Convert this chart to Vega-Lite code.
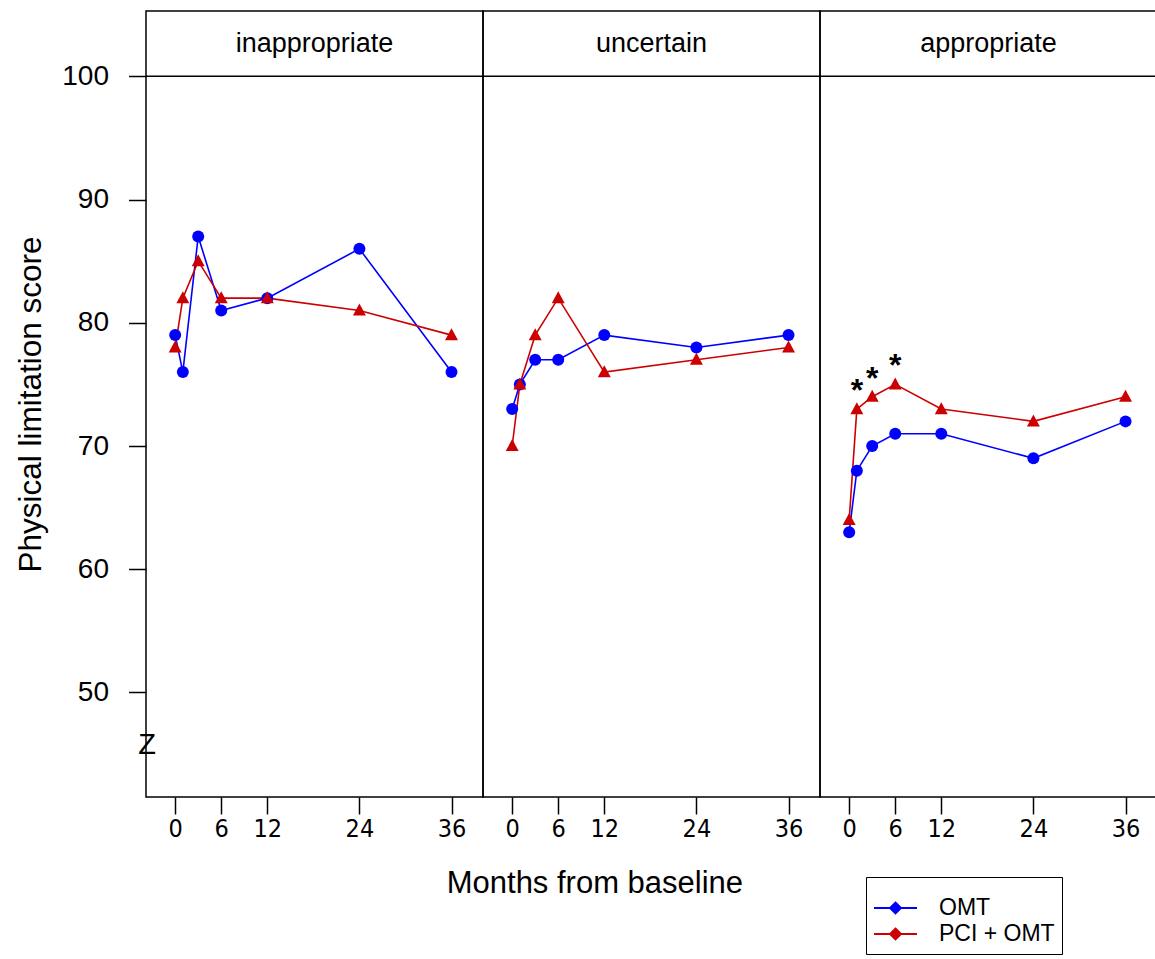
{
  "$schema": "https://vega.github.io/schema/vega-lite/v6.json",
  "padding": {"left": 15, "top": 10, "right": 0, "bottom": 0},
  "background": "white",
  "data": {"values": [
    {"panel": "inappropriate", "kind": "strip"},
    {"panel": "uncertain", "kind": "strip"},
    {"panel": "appropriate", "kind": "strip"},
    {"panel": "inappropriate", "kind": "z", "label": "Z"},
    {"panel": "inappropriate", "kind": "pt", "group": "OMT", "month": 0, "score": 79},
    {"panel": "inappropriate", "kind": "pt", "group": "OMT", "month": 1, "score": 76},
    {"panel": "inappropriate", "kind": "pt", "group": "OMT", "month": 3, "score": 87},
    {"panel": "inappropriate", "kind": "pt", "group": "OMT", "month": 6, "score": 81},
    {"panel": "inappropriate", "kind": "pt", "group": "OMT", "month": 12, "score": 82},
    {"panel": "inappropriate", "kind": "pt", "group": "OMT", "month": 24, "score": 86},
    {"panel": "inappropriate", "kind": "pt", "group": "OMT", "month": 36, "score": 76},
    {"panel": "inappropriate", "kind": "pt", "group": "PCI + OMT", "month": 0, "score": 78},
    {"panel": "inappropriate", "kind": "pt", "group": "PCI + OMT", "month": 1, "score": 82},
    {"panel": "inappropriate", "kind": "pt", "group": "PCI + OMT", "month": 3, "score": 85},
    {"panel": "inappropriate", "kind": "pt", "group": "PCI + OMT", "month": 6, "score": 82},
    {"panel": "inappropriate", "kind": "pt", "group": "PCI + OMT", "month": 12, "score": 82},
    {"panel": "inappropriate", "kind": "pt", "group": "PCI + OMT", "month": 24, "score": 81},
    {"panel": "inappropriate", "kind": "pt", "group": "PCI + OMT", "month": 36, "score": 79},
    {"panel": "uncertain", "kind": "pt", "group": "OMT", "month": 0, "score": 73},
    {"panel": "uncertain", "kind": "pt", "group": "OMT", "month": 1, "score": 75},
    {"panel": "uncertain", "kind": "pt", "group": "OMT", "month": 3, "score": 77},
    {"panel": "uncertain", "kind": "pt", "group": "OMT", "month": 6, "score": 77},
    {"panel": "uncertain", "kind": "pt", "group": "OMT", "month": 12, "score": 79},
    {"panel": "uncertain", "kind": "pt", "group": "OMT", "month": 24, "score": 78},
    {"panel": "uncertain", "kind": "pt", "group": "OMT", "month": 36, "score": 79},
    {"panel": "uncertain", "kind": "pt", "group": "PCI + OMT", "month": 0, "score": 70},
    {"panel": "uncertain", "kind": "pt", "group": "PCI + OMT", "month": 1, "score": 75},
    {"panel": "uncertain", "kind": "pt", "group": "PCI + OMT", "month": 3, "score": 79},
    {"panel": "uncertain", "kind": "pt", "group": "PCI + OMT", "month": 6, "score": 82},
    {"panel": "uncertain", "kind": "pt", "group": "PCI + OMT", "month": 12, "score": 76},
    {"panel": "uncertain", "kind": "pt", "group": "PCI + OMT", "month": 24, "score": 77},
    {"panel": "uncertain", "kind": "pt", "group": "PCI + OMT", "month": 36, "score": 78},
    {"panel": "appropriate", "kind": "pt", "group": "OMT", "month": 0, "score": 63},
    {"panel": "appropriate", "kind": "pt", "group": "OMT", "month": 1, "score": 68},
    {"panel": "appropriate", "kind": "pt", "group": "OMT", "month": 3, "score": 70},
    {"panel": "appropriate", "kind": "pt", "group": "OMT", "month": 6, "score": 71},
    {"panel": "appropriate", "kind": "pt", "group": "OMT", "month": 12, "score": 71},
    {"panel": "appropriate", "kind": "pt", "group": "OMT", "month": 24, "score": 69},
    {"panel": "appropriate", "kind": "pt", "group": "OMT", "month": 36, "score": 72},
    {"panel": "appropriate", "kind": "pt", "group": "PCI + OMT", "month": 0, "score": 64},
    {"panel": "appropriate", "kind": "pt", "group": "PCI + OMT", "month": 1, "score": 73, "sig": "*"},
    {"panel": "appropriate", "kind": "pt", "group": "PCI + OMT", "month": 3, "score": 74, "sig": "*"},
    {"panel": "appropriate", "kind": "pt", "group": "PCI + OMT", "month": 6, "score": 75, "sig": "*"},
    {"panel": "appropriate", "kind": "pt", "group": "PCI + OMT", "month": 12, "score": 73},
    {"panel": "appropriate", "kind": "pt", "group": "PCI + OMT", "month": 24, "score": 72},
    {"panel": "appropriate", "kind": "pt", "group": "PCI + OMT", "month": 36, "score": 74}
  ]},
  "spacing": 0,
  "bounds": "flush",
  "resolve": {"scale": {"color": "shared", "shape": "shared"}, "legend": {"color": "shared", "shape": "shared"}},
  "hconcat": [
    {
      "width": 337, "height": 786,
      "transform": [{"filter": "datum.panel === 'inappropriate'"}],
      "layer": [
        {"transform": [{"filter": "datum.kind === 'strip'"}],
         "mark": {"type": "rule", "color": "black", "strokeWidth": 1.5},
         "encoding": {"y": {"datum": 100, "type": "quantitative", "scale": {"domain": [41.52, 105.3], "nice": false, "zero": false}}}},
        {"transform": [{"filter": "datum.kind === 'strip'"}],
         "mark": {"type": "text", "fontSize": 27, "color": "black", "align": "center", "baseline": "middle"},
         "encoding": {
           "x": {"datum": 18.15, "type": "quantitative", "scale": {"domain": [-3.8, 40.1], "nice": false, "zero": false}},
           "y": {"datum": 102.64, "type": "quantitative"},
           "text": {"field": "panel"}}},
        {"transform": [{"filter": "datum.kind === 'z'"}],
         "mark": {"type": "text", "fontSize": 29, "color": "black", "align": "center", "baseline": "middle"},
         "encoding": {
           "x": {"datum": -3.65, "type": "quantitative"},
           "y": {"datum": 45.7, "type": "quantitative"},
           "text": {"field": "label"}}},
        {"transform": [{"filter": "datum.kind === 'pt'"}],
         "mark": {"type": "line", "strokeWidth": 1.6},
         "encoding": {
           "x": {"field": "month", "type": "quantitative", "scale": {"domain": [-3.8, 40.1], "nice": false, "zero": false},
             "axis": {"values": [0, 6, 12, 24, 36], "title": "Months from baseline", "titleX": 448.4}},
           "y": {"field": "score", "type": "quantitative", "scale": {"domain": [41.52, 105.3], "nice": false, "zero": false},
             "axis": {"values": [50, 60, 70, 80, 90, 100], "title": "Physical limitation score", "labelFontSize": 28, "tickSize": 17.5, "labelPadding": 20, "titleFontSize": 31.5, "titlePadding": 14}},
           "color": {"field": "group", "type": "nominal", "title": " ", "scale": {"domain": ["OMT", "PCI + OMT"], "range": ["#0000ff", "#cc0000"]},
             "legend": {"orient": "none", "legendX": 720, "legendY": 866}}}},
        {"transform": [{"filter": "datum.kind === 'pt'"}],
         "mark": {"type": "point", "filled": true, "opacity": 1, "size": 144},
         "encoding": {
           "x": {"field": "month", "type": "quantitative"},
           "y": {"field": "score", "type": "quantitative"},
           "shape": {"field": "group", "type": "nominal", "scale": {"range": ["circle", "M0,-1.15L1.08,0.85L-1.08,0.85Z"]}, "legend": null},
           "color": {"field": "group", "type": "nominal", "title": " ", "scale": {"domain": ["OMT", "PCI + OMT"], "range": ["#0000ff", "#cc0000"]},
             "legend": {"orient": "none", "legendX": 720, "legendY": 866}}}}
      ]
    },
    {
      "width": 337, "height": 786,
      "transform": [{"filter": "datum.panel === 'uncertain'"}],
      "layer": [
        {"transform": [{"filter": "datum.kind === 'strip'"}],
         "mark": {"type": "rule", "color": "black", "strokeWidth": 1.5},
         "encoding": {"y": {"datum": 100, "type": "quantitative", "scale": {"domain": [41.52, 105.3], "nice": false, "zero": false}, "axis": null}}},
        {"transform": [{"filter": "datum.kind === 'strip'"}],
         "mark": {"type": "text", "fontSize": 27, "color": "black", "align": "center", "baseline": "middle"},
         "encoding": {
           "x": {"datum": 18.15, "type": "quantitative", "scale": {"domain": [-3.8, 40.1], "nice": false, "zero": false}},
           "y": {"datum": 102.64, "type": "quantitative", "axis": null},
           "text": {"field": "panel"}}},
        {"transform": [{"filter": "datum.kind === 'pt'"}],
         "mark": {"type": "line", "strokeWidth": 1.6},
         "encoding": {
           "x": {"field": "month", "type": "quantitative", "scale": {"domain": [-3.8, 40.1], "nice": false, "zero": false},
             "axis": {"values": [0, 6, 12, 24, 36], "title": ""}},
           "y": {"field": "score", "type": "quantitative", "scale": {"domain": [41.52, 105.3], "nice": false, "zero": false}, "axis": null},
           "color": {"field": "group", "type": "nominal", "title": " ", "scale": {"domain": ["OMT", "PCI + OMT"], "range": ["#0000ff", "#cc0000"]},
             "legend": {"orient": "none", "legendX": 720, "legendY": 866}}}},
        {"transform": [{"filter": "datum.kind === 'pt'"}],
         "mark": {"type": "point", "filled": true, "opacity": 1, "size": 144},
         "encoding": {
           "x": {"field": "month", "type": "quantitative"},
           "y": {"field": "score", "type": "quantitative", "axis": null},
           "shape": {"field": "group", "type": "nominal", "scale": {"range": ["circle", "M0,-1.15L1.08,0.85L-1.08,0.85Z"]}, "legend": null},
           "color": {"field": "group", "type": "nominal", "title": " ", "scale": {"domain": ["OMT", "PCI + OMT"], "range": ["#0000ff", "#cc0000"]},
             "legend": {"orient": "none", "legendX": 720, "legendY": 866}}}}
      ]
    },
    {
      "width": 337, "height": 786,
      "transform": [{"filter": "datum.panel === 'appropriate'"}],
      "layer": [
        {"transform": [{"filter": "datum.kind === 'strip'"}],
         "mark": {"type": "rule", "color": "black", "strokeWidth": 1.5},
         "encoding": {"y": {"datum": 100, "type": "quantitative", "scale": {"domain": [41.52, 105.3], "nice": false, "zero": false}, "axis": null}}},
        {"transform": [{"filter": "datum.kind === 'strip'"}],
         "mark": {"type": "text", "fontSize": 27, "color": "black", "align": "center", "baseline": "middle"},
         "encoding": {
           "x": {"datum": 18.15, "type": "quantitative", "scale": {"domain": [-3.8, 40.1], "nice": false, "zero": false}},
           "y": {"datum": 102.64, "type": "quantitative", "axis": null},
           "text": {"field": "panel"}}},
        {"transform": [{"filter": "datum.kind === 'pt'"}],
         "mark": {"type": "line", "strokeWidth": 1.6},
         "encoding": {
           "x": {"field": "month", "type": "quantitative", "scale": {"domain": [-3.8, 40.1], "nice": false, "zero": false},
             "axis": {"values": [0, 6, 12, 24, 36], "title": ""}},
           "y": {"field": "score", "type": "quantitative", "scale": {"domain": [41.52, 105.3], "nice": false, "zero": false}, "axis": null},
           "color": {"field": "group", "type": "nominal", "title": " ", "scale": {"domain": ["OMT", "PCI + OMT"], "range": ["#0000ff", "#cc0000"]},
             "legend": {"orient": "none", "legendX": 720, "legendY": 866}}}},
        {"transform": [{"filter": "datum.kind === 'pt'"}],
         "mark": {"type": "point", "filled": true, "opacity": 1, "size": 144},
         "encoding": {
           "x": {"field": "month", "type": "quantitative"},
           "y": {"field": "score", "type": "quantitative", "axis": null},
           "shape": {"field": "group", "type": "nominal", "scale": {"range": ["circle", "M0,-1.15L1.08,0.85L-1.08,0.85Z"]}, "legend": null},
           "color": {"field": "group", "type": "nominal", "title": " ", "scale": {"domain": ["OMT", "PCI + OMT"], "range": ["#0000ff", "#cc0000"]},
             "legend": {"orient": "none", "legendX": 720, "legendY": 866}}}},
        {"transform": [{"filter": "datum.sig"}],
         "mark": {"type": "text", "fontSize": 32, "fontWeight": "bold", "color": "black", "align": "center", "baseline": "alphabetic", "dy": -8},
         "encoding": {
           "x": {"field": "month", "type": "quantitative"},
           "y": {"field": "score", "type": "quantitative", "axis": null},
           "text": {"field": "sig"}}}
      ]
    }
  ],
  "config": {
    "font": "Liberation Sans",
    "view": {"stroke": "black", "strokeWidth": 1.5},
    "axis": {"domain": false, "grid": false, "tickColor": "black", "tickWidth": 1.5, "labelColor": "black", "titleColor": "black", "titleFontWeight": "normal"},
    "axisX": {"labelFont": "'Liberation Sans Narrow', 'DejaVu Sans Condensed', 'Liberation Sans', sans-serif", "labelFontSize": 25, "tickSize": 17, "labelPadding": 2, "titleFontSize": 31, "titlePadding": 27},
    "legend": {
      "titleFontSize": 9, "titlePadding": 2,
      "strokeColor": "black", "fillColor": "white", "padding": 7,
      "symbolType": "M-1,0H1M0,-0.26L0.26,0L0,0.26L-0.26,0Z",
      "symbolSize": 1849, "clipHeight": 26, "rowPadding": 0, "symbolStrokeWidth": 1.8,
      "labelFontSize": 23, "labelColor": "black", "labelOffset": 21, "labelLimit": 300
    }
  }
}
